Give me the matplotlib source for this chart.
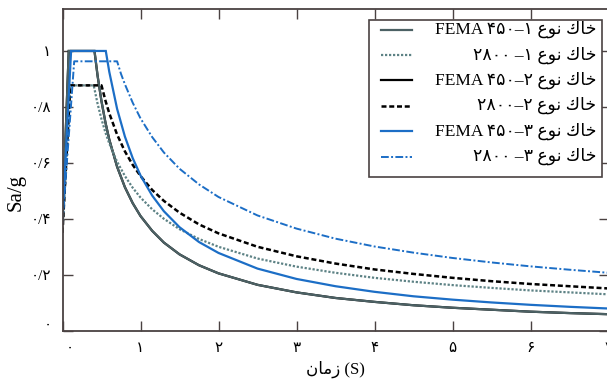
import matplotlib
matplotlib.use("Agg")
import matplotlib.pyplot as plt
import matplotlib.transforms as mtransforms
from matplotlib.patches import Rectangle

# periods (s) and spectral values Sa/g
t_fema1 = [0.0, 0.08, 0.41, 0.45, 0.5, 0.55, 0.6, 0.7, 0.8, 0.9, 1.0, 1.15, 1.3, 1.5, 1.75,
           2.0, 2.5, 3.0, 3.5, 4.0, 4.5, 5.0, 5.5, 6.0, 6.5, 7.0]
sa_fema1 = [0.40, 1.0, 1.0, 0.911, 0.82, 0.745, 0.683, 0.586, 0.513, 0.456, 0.41, 0.357, 0.315,
            0.273, 0.234, 0.205, 0.164, 0.137, 0.117, 0.103, 0.091, 0.082, 0.075, 0.068, 0.063, 0.059]

t_2800_1 = [0.0, 0.1, 0.4, 0.45, 0.5, 0.55, 0.6, 0.7, 0.8, 0.9, 1.0, 1.15, 1.3, 1.5, 1.75,
            2.0, 2.5, 3.0, 3.5, 4.0, 4.5, 5.0, 5.5, 6.0, 6.5, 7.0]
sa_2800_1 = [0.35, 0.877, 0.877, 0.811, 0.756, 0.709, 0.669, 0.604, 0.553, 0.511, 0.476, 0.434,
             0.400, 0.363, 0.328, 0.300, 0.258, 0.229, 0.207, 0.189, 0.175, 0.163, 0.153, 0.144,
             0.137, 0.130]

# FEMA 450 soil 2 is not visible in the picture: it lies under soil 1
t_fema2 = t_fema1
sa_fema2 = sa_fema1

t_2800_2 = [0.0, 0.1, 0.5, 0.55, 0.6, 0.7, 0.8, 0.9, 1.0, 1.15, 1.3, 1.5, 1.75,
            2.0, 2.5, 3.0, 3.5, 4.0, 4.5, 5.0, 5.5, 6.0, 6.5, 7.0]
sa_2800_2 = [0.35, 0.877, 0.877, 0.823, 0.777, 0.701, 0.641, 0.593, 0.553, 0.503, 0.464, 0.422,
             0.380, 0.348, 0.300, 0.266, 0.240, 0.219, 0.203, 0.189, 0.177, 0.167, 0.159, 0.151]

t_fema3 = [0.0, 0.11, 0.555, 0.6, 0.7, 0.8, 0.9, 1.0, 1.15, 1.3, 1.5, 1.75,
           2.0, 2.5, 3.0, 3.5, 4.0, 4.5, 5.0, 5.5, 6.0, 6.5, 7.0]
sa_fema3 = [0.40, 1.0, 1.0, 0.925, 0.793, 0.694, 0.617, 0.555, 0.483, 0.427, 0.370, 0.317,
            0.278, 0.222, 0.185, 0.159, 0.139, 0.123, 0.111, 0.101, 0.0925, 0.0854, 0.0793]

t_2800_3 = [0.0, 0.15, 0.7, 0.75, 0.8, 0.9, 1.0, 1.15, 1.3, 1.5, 1.75,
            2.0, 2.5, 3.0, 3.5, 4.0, 4.5, 5.0, 5.5, 6.0, 6.5, 7.0]
sa_2800_3 = [0.385, 0.963, 0.963, 0.918, 0.881, 0.815, 0.759, 0.692, 0.637, 0.579, 0.523,
             0.478, 0.412, 0.365, 0.329, 0.301, 0.279, 0.260, 0.244, 0.230, 0.218, 0.207]

# visual-order (pre-shaped) Persian strings
SOIL = "\ufec9\ufeee\ufee7 \ufed9\ufe8e\ufea7"   # خاک نوع
labels = [
    "FEMA \u06f4\u06f5\u06f0\u2013\u06f1 " + SOIL,
    "\u06f2\u06f8\u06f0\u06f0 \u2013\u06f1 " + SOIL,
    "FEMA \u06f4\u06f5\u06f0\u2013\u06f2 " + SOIL,
    "\u06f2\u06f8\u06f0\u06f0\u2013\u06f2 " + SOIL,
    "FEMA \u06f4\u06f5\u06f0\u2013\u06f3 " + SOIL,
    "\u06f2\u06f8\u06f0\u06f0 \u2013\u06f3 " + SOIL,
]
xticks = [0, 1, 2, 3, 4, 5, 6, 7]
xtick_labels = ["\u06f0", "\u06f1", "\u06f2", "\u06f3", "\u06f4", "\u06f5", "\u06f6", "\u06f7"]
yticks = [0, 0.2, 0.4, 0.6, 0.8, 1.0]
ytick_labels = ["\u06f0", "\u06f0/\u06f2", "\u06f0/\u06f4", "\u06f0/\u06f6", "\u06f0/\u06f8", "\u06f1"]
xlabel = "\ufee5\ufe8e\ufee3\ufeaf (S)"   # زمان (S)

FONTS = ["Liberation Serif", "DejaVu Sans"]
GREY = "#4c6164"
GREY_DOT = "#5d8285"
BLUE = "#1c6ec6"
SPINE = "#4a4242"

styles = [
    dict(color=GREY, ls="-", lw=1.6),
    dict(color=GREY_DOT, ls=(0, (1, 0.8)), lw=1.6),
    dict(color="black", ls="-", lw=1.6),
    dict(color="black", ls=(0, (2.0, 1.1)), lw=1.8),
    dict(color=BLUE, ls="-", lw=1.6),
    dict(color=BLUE, ls=(0, (4, 1.2, 1, 1.2)), lw=1.4),
]
series = [(t_fema1, sa_fema1), (t_2800_1, sa_2800_1), (t_fema2, sa_fema2),
          (t_2800_2, sa_2800_2), (t_fema3, sa_fema3), (t_2800_3, sa_2800_3)]
order = [2, 0, 1, 3, 4, 5]

W, H = 607, 381
fig = plt.figure(figsize=(W / 100, H / 100), dpi=100)
x0, x1, ytop, ybot = 62.5, 608.5, 9.0, 330.7
ax = fig.add_axes([x0 / W, (H - ybot) / H, (x1 - x0) / W, (ybot - ytop) / H])

for i in order:
    t, sa = series[i]
    ax.plot(t, sa, **styles[i], solid_joinstyle="miter")

ax.set_xlim(0, 7)
ax.set_ylim(0, 1.15)
ax.set_xticks(xticks)
ax.set_xticklabels(xtick_labels, family=FONTS, fontsize=11)
ax.set_yticks(yticks)
ax.set_yticklabels(ytick_labels, family=FONTS, fontsize=11)
ax.tick_params(direction="in", top=True, right=True, length=7, width=1.0,
               color=SPINE, pad=8)
for s in ax.spines.values():
    s.set_color(SPINE)
    s.set_linewidth(1.3)

# the zero labels sit a little inside, as in the original
lab = ax.get_xticklabels()[0]
lab.set_transform(lab.get_transform() + mtransforms.ScaledTranslation(0.07, 0, fig.dpi_scale_trans))
lab = ax.get_yticklabels()[0]
lab.set_transform(lab.get_transform() + mtransforms.ScaledTranslation(0, 0.07, fig.dpi_scale_trans))

ax.set_xlabel(xlabel, family=FONTS, fontsize=12, labelpad=4)
ax.set_ylabel("Sa/g", family=FONTS, fontsize=15)
ax.yaxis.set_label_coords(-0.068, 0.43)


# hand-made legend so the text can be right aligned like the original
def axx(px):
    return (px - x0) / (x1 - x0)


def axy(py):
    return (ybot - py) / (ybot - ytop)


ax.add_patch(Rectangle((axx(369), axy(177)), axx(602) - axx(369), axy(20) - axy(177),
                       transform=ax.transAxes, facecolor="white", edgecolor=SPINE,
                       lw=1.2, zorder=5, clip_on=False))
for k in range(6):
    py = 29.5 + 25.4 * k
    ax.plot([axx(381), axx(412)], [axy(py), axy(py)], transform=ax.transAxes,
            **styles[k], zorder=6, clip_on=False)
    ax.text(axx(596), axy(py), labels[k], transform=ax.transAxes, ha="right",
            va="center", family=FONTS, fontsize=12.5, zorder=6)

fig.savefig("out.png", dpi=100)
